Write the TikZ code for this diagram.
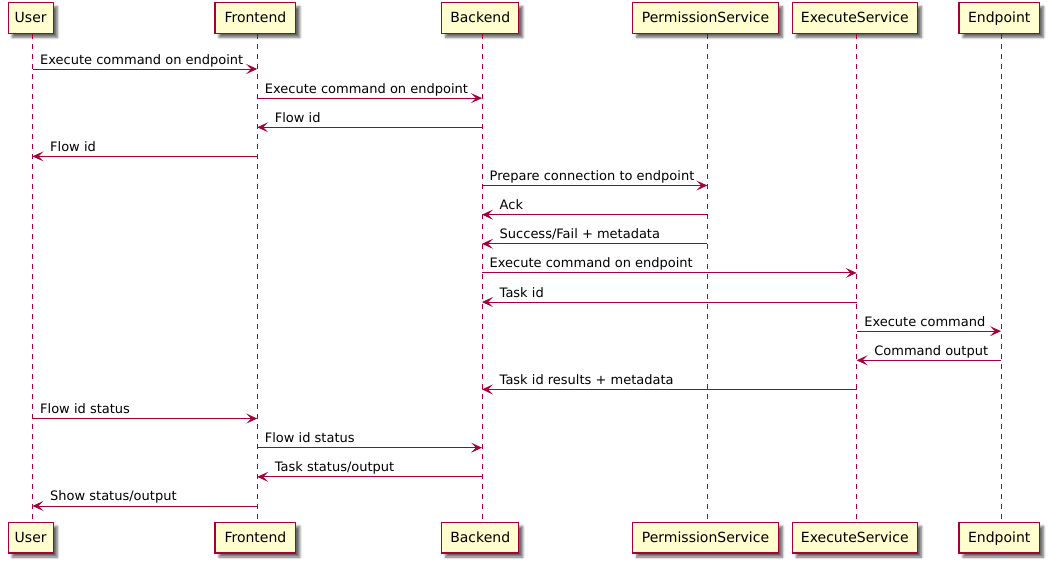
\documentclass[tikz,border=0pt]{standalone}
\usepackage{fontspec}
\setmainfont{DejaVu Sans}
\usetikzlibrary{arrows.meta,shadows.blur}
\definecolor{umlred}{HTML}{A80036}
\definecolor{umlfill}{HTML}{FEFECE}
\tikzset{
  actorbox/.style={draw=umlred, fill=umlfill, line width=1.4pt,
    minimum height=30.6pt, inner xsep=4pt, inner ysep=0pt,
    text height=11pt, text depth=2pt,
    font=\fontsize{14}{16}\selectfont,
    blur shadow={shadow xshift=4pt, shadow yshift=-4pt, shadow blur steps=5, shadow blur radius=2.5pt, shadow opacity=60}},
  lifeline/.style={draw=umlred, line width=0.8pt, dash pattern=on 5pt off 5pt},
  msg/.style={draw=umlred, line width=0.9pt,
    -{Stealth[length=11pt, width=10pt, inset=5pt]}},
  msglabel/.style={anchor=base west, inner sep=0pt, font=\fontsize{13}{15}\selectfont}
}
% message from lifeline #1 to lifeline #2 on row #3, label near the sender
\newcommand{\sendmsg}[4]{%
  \pgfmathsetmacro{\rowy}{69+29.13*#3}%
  \draw[msg] (#1L |- 0,\rowy) -- (#2L |- 0,\rowy);
  \path (#1L |- 0,\rowy) ++(7.5,-5) node[msglabel] {#4};}
% answer from lifeline #1 back to lifeline #2, label after the arrow tip
\newcommand{\replymsg}[4]{%
  \pgfmathsetmacro{\rowy}{69+29.13*#3}%
  \draw[msg] (#1L |- 0,\rowy) -- (#2L |- 0,\rowy);
  \path (#2L |- 0,\rowy) ++(17.5,-5) node[msglabel] {#4};}
\begin{document}
\begin{tikzpicture}[x=1pt, y=-1pt]
  \useasboundingbox (0,0) rectangle (1057,571);
  % participants (top and bottom heads) and their lifelines
  \foreach \pname/\lx/\bw/\ptext in {user/32.5/45/User, front/257.2/80.7/Frontend,
      back/482/77/Backend, perm/707.3/145.7/PermissionService,
      exec/856.6/125/ExecuteService, endp/1001/80.3/Endpoint}{
    \node[actorbox, minimum width=\bw pt] (\pname T) at (\lx-1.8,18) {\ptext};
    \node[actorbox, minimum width=\bw pt] (\pname B) at (\lx-1.8,537.7) {\ptext};
    \coordinate (\pname L) at (\lx,0);
    \draw[lifeline] (\pname L |- \pname T.south) -- (\pname L |- \pname B.north);
  }
  % messages
  \sendmsg{user}{front}{0}{Execute command on endpoint}
  \sendmsg{front}{back}{1}{Execute command on endpoint}
  \replymsg{back}{front}{2}{Flow id}
  \replymsg{front}{user}{3}{Flow id}
  \sendmsg{back}{perm}{4}{Prepare connection to endpoint}
  \replymsg{perm}{back}{5}{Ack}
  \replymsg{perm}{back}{6}{Success/Fail + metadata}
  \sendmsg{back}{exec}{7}{Execute command on endpoint}
  \replymsg{exec}{back}{8}{Task id}
  \sendmsg{exec}{endp}{9}{Execute command}
  \replymsg{endp}{exec}{10}{Command output}
  \replymsg{exec}{back}{11}{Task id results + metadata}
  \sendmsg{user}{front}{12}{Flow id status}
  \sendmsg{front}{back}{13}{Flow id status}
  \replymsg{back}{front}{14}{Task status/output}
  \replymsg{front}{user}{15}{Show status/output}
\end{tikzpicture}
\end{document}
